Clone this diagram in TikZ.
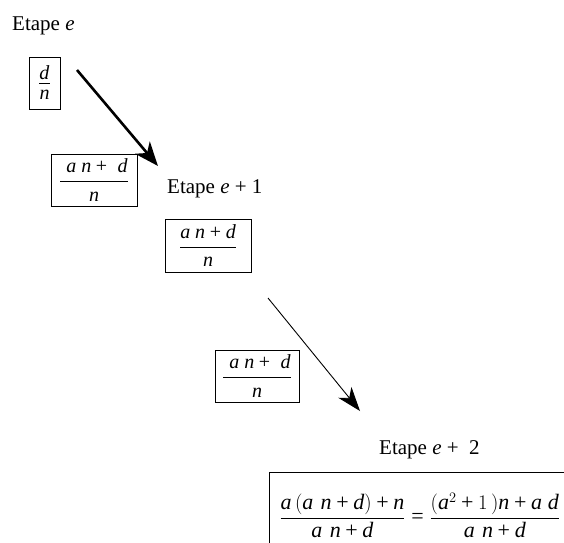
\documentclass[tikz,border=0pt]{standalone}
\usepackage{fontspec}
\setmainfont{Liberation Serif}
\usepackage{amsmath}
\usepackage{tikz}
\usetikzlibrary{arrows.meta,positioning}
\newcommand{\vi}[1]{\textit{#1}}
\newcommand{\pl}{\mathbin{\textrm{+}}}
\newcommand{\eqs}{\mathrel{\textrm{=}}}

\begin{document}
\begin{tikzpicture}[
    x=1pt, y=-1pt,
    lbl/.style={anchor=base west, inner sep=0pt, font=\fontsize{21}{24}\selectfont},
    fracbox/.style={draw, line width=0.8pt, inner sep=0pt, align=center, font=\fontsize{20}{24}\selectfont},
    bigarr/.style={-{Stealth[length=24pt, width=19pt, inset=7pt]}, line width=2.6pt},
    thinarr/.style={-{Stealth[length=24pt, width=17pt, inset=7pt]}, line width=0.9pt},
]
    \clip (0,0) rectangle (564,542);

    % Etape e
    \node[lbl] (et0) at (12,30) {Etape \vi{e}};
    \node[fracbox, minimum width=31, minimum height=52] (fr0) at (44.5,83) {\underline{\vi{d}}\\[-4pt]\vi{n}};

    % passage e -> e+1
    \coordinate (a0s) at (77,70);
    \coordinate (a0e) at (158,166);
    \draw[bigarr] (a0s) -- (a0e);
    \node[fracbox, minimum width=86, minimum height=52] (fr1) at (94,180) {$\displaystyle\frac{\;\vi{a n} \pl \;\vi{d}}{\vi{n}}$};

    % Etape e+1
    \node[lbl] (et1) at (167,193) {Etape \vi{e} + 1};
    \node[fracbox, minimum width=86, minimum height=53] (fr2) at (208,245.5) {$\displaystyle\frac{\vi{a n} \pl \vi{d}}{\vi{n}}$};

    % passage e+1 -> e+2
    \coordinate (a1s) at (268,298);
    \coordinate (a1e) at (360,411);
    \draw[thinarr] (a1s) -- (a1e);
    \node[fracbox, minimum width=84, minimum height=52] (fr3) at (257,376) {$\displaystyle\frac{\;\vi{a n} \pl \;\vi{d}}{\vi{n}}$};

    % Etape e+2
    \node[lbl] (et2) at (379,454) {Etape \vi{e} + \ 2};
    \node[fracbox, anchor=north west, minimum height=86, text width=340pt, align=left, inner xsep=10pt,
        font=\fontsize{22}{24}\selectfont] (fr4) at (269,472)
        {$\displaystyle\frac{\vi{a}\,(\vi{a n} \pl \vi{d}) \pl \vi{n}}{\vi{a n} \pl \vi{d}} \eqs \frac{(\vi{a}^2 \pl 1\,)\vi{n} \pl \vi{a}\;\vi{d}}{\vi{a n} \pl \vi{d}}$};
\end{tikzpicture}
\end{document}
